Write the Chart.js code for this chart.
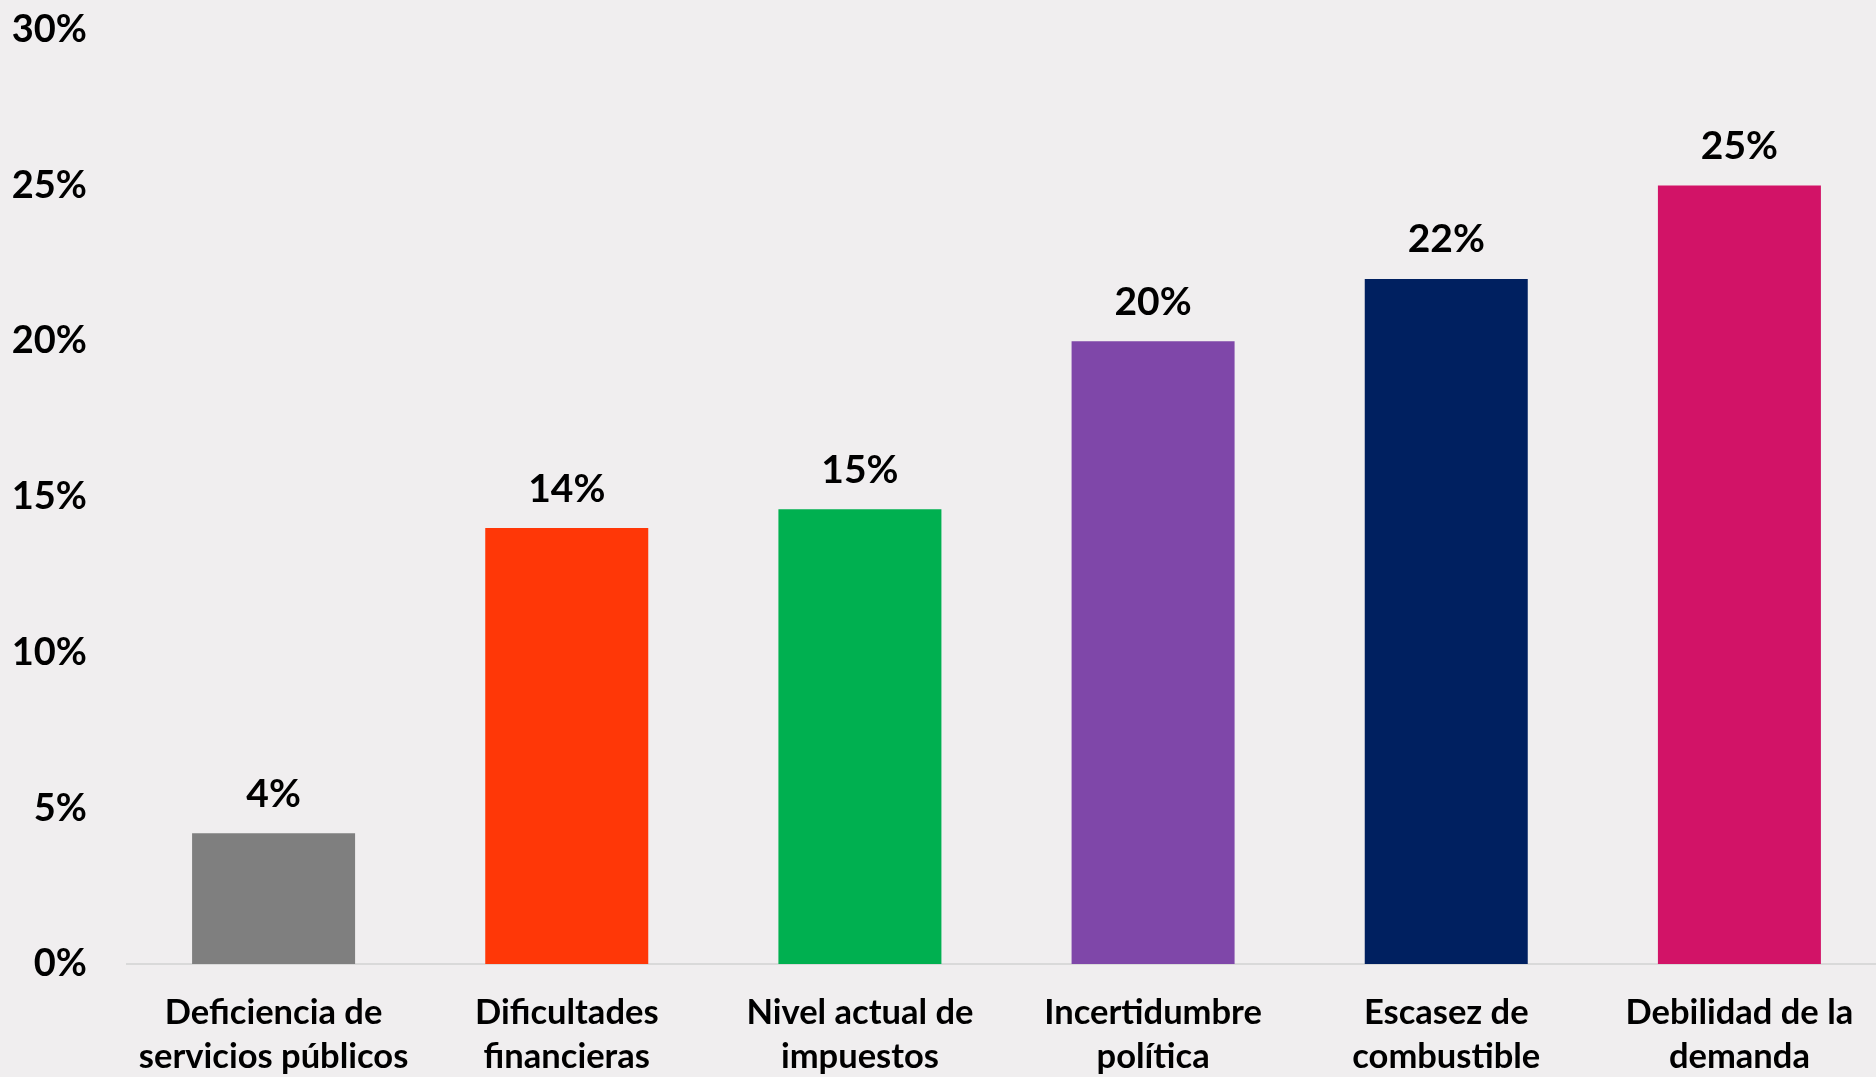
<!DOCTYPE html>
<html>
<head>
<meta charset="utf-8">
<script src="https://cdn.jsdelivr.net/npm/chart.js@4/dist/chart.umd.min.js"></script>
<style>
  html, body { margin: 0; padding: 0; background: #f0eeef; overflow: hidden; }
  #wrap { position: relative; width: 1890px; height: 1109px; margin-top: -33px; }
</style>
</head>
<body>
<div id="wrap"><canvas id="barChart"></canvas></div>
<script>
const categories = [
    ["Deficiencia de", "servicios públicos"],
    ["Dificultades", "financieras"],
    ["Nivel actual de", "impuestos"],
    ["Incertidumbre", "política"],
    ["Escasez de", "combustible"],
    ["Debilidad de la", "demanda"],
];
const values = [4.2, 14.0, 14.6, 20.0, 22.0, 25.0];
const valueLabels = ["4%", "14%", "15%", "20%", "22%", "25%"];
const barColors = ["#7f7f7f", "#ff3707", "#00b050", "#7f47a9", "#002060", "#d21367"];
const yTicks = [0, 5, 10, 15, 20, 25, 30];

const FONT = "Lato, 'Open Sans', sans-serif";

/** etiquetas encima de cada barra **/
const valueLabelPlugin = {
    id: "valueLabels",
    afterDatasetsDraw(chart) {
        const ctx = chart.ctx;
        const meta = chart.getDatasetMeta(0);
        ctx.save();
        ctx.font = "bold 39px " + FONT;
        ctx.fillStyle = "#000";
        ctx.textAlign = "center";
        ctx.textBaseline = "middle";
        meta.data.forEach((bar, i) => {
            ctx.fillText(valueLabels[i], bar.x, bar.y - 39);
        });
        ctx.restore();
    },
};

new Chart(document.getElementById("barChart"), {
    type: "bar",
    data: {
        labels: categories,
        datasets: [
            {
                data: values,
                backgroundColor: barColors,
                borderWidth: 0,
                categoryPercentage: 1,
                barPercentage: 0.556,
            },
        ],
    },
    options: {
        responsive: true,
        maintainAspectRatio: false,
        animation: false,
        devicePixelRatio: 1,
        layout: { padding: { top: 0, right: 4, bottom: 0, left: 0 } },
        plugins: { legend: { display: false }, tooltip: { enabled: false } },
        scales: {
            x: {
                grid: { display: false, drawTicks: false },
                border: { display: true, color: "#d9d9d9", width: 2 },
                ticks: {
                    color: "#000",
                    padding: 26,
                    maxRotation: 0,
                    autoSkip: false,
                    font: { family: FONT, size: 34.5, weight: "bold", lineHeight: 1.3 },
                },
                afterFit: (s) => { s.height = 112; },
            },
            y: {
                min: 0,
                max: 30,
                grid: { display: false, drawTicks: false },
                border: { display: false },
                afterBuildTicks: (s) => { s.ticks = yTicks.map((v) => ({ value: v })); },
                ticks: {
                    color: "#000",
                    padding: 40,
                    font: { family: FONT, size: 38, weight: "bold" },
                    callback: (v) => v + "%",
                },
                afterFit: (s) => { s.width = 127; },
            },
        },
    },
    plugins: [valueLabelPlugin],
});
</script>
</body>
</html>
